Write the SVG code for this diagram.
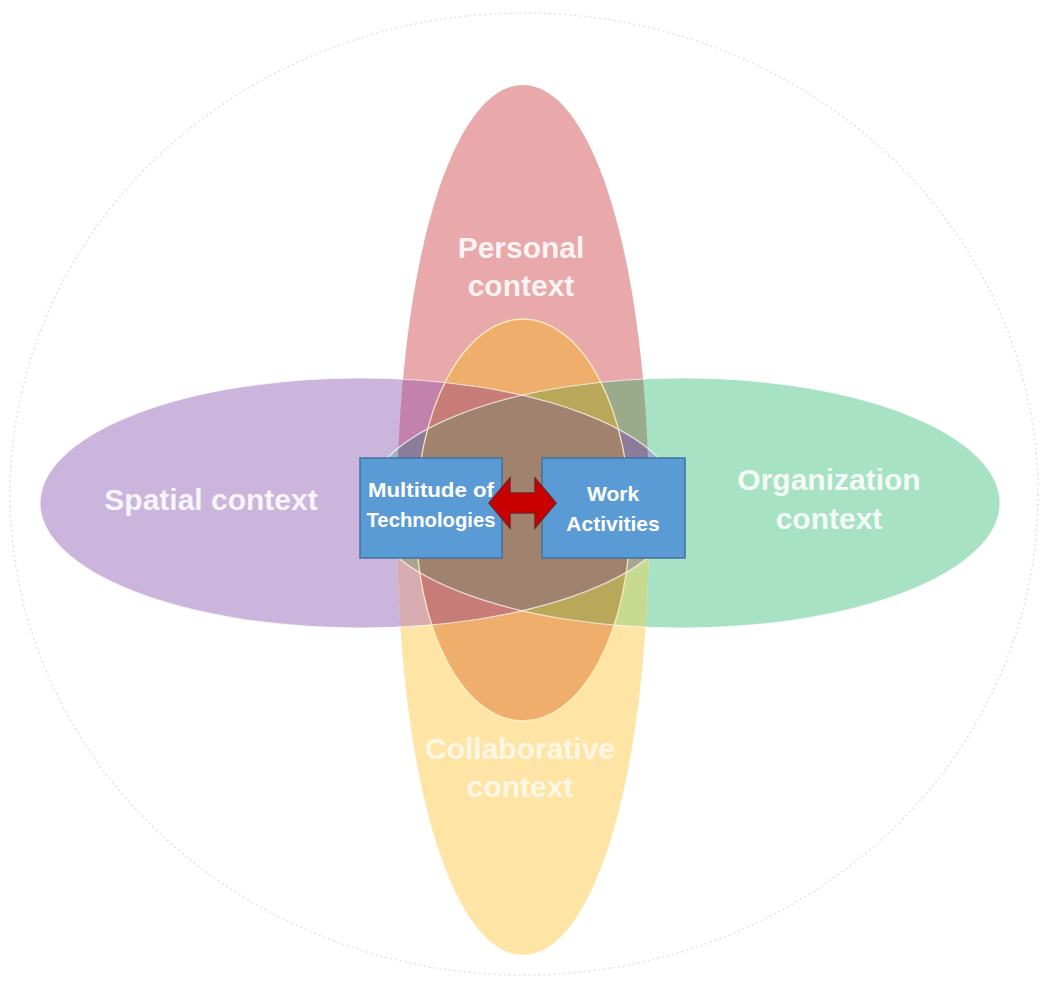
<svg xmlns="http://www.w3.org/2000/svg" width="1043" height="986" viewBox="0 0 1043 986">
<style>
.lbl{font-family:"Liberation Sans",Arial,sans-serif;font-weight:bold;font-size:30px;fill:#FFFFFF;fill-opacity:0.88;text-anchor:middle}
.btxt{font-family:"Liberation Sans",Arial,sans-serif;font-weight:bold;font-size:21px;fill:#FFFFFF;text-anchor:middle}
.box{fill:#5B9BD5;stroke:#41719C;stroke-width:1.5}
.edge{fill:none;stroke:#FFFFFF;stroke-opacity:0.7;stroke-width:1.2}
</style>
<defs>
<clipPath id="cV"><path d="M397,520 C397,259 453.7,85 523,85 C592.3,85 649,259 649,520 C649,781 592.3,955 523,955 C453.7,955 397,781 397,520 Z"/></clipPath>
<clipPath id="cO"><ellipse cx="523" cy="520" rx="107" ry="201"/></clipPath>
<clipPath id="cP"><ellipse cx="360" cy="503" rx="320" ry="125"/></clipPath>
<clipPath id="cG"><ellipse cx="683" cy="503" rx="317" ry="125"/></clipPath>
<clipPath id="cTop"><rect x="0" y="0" width="1043" height="508"/></clipPath>
<clipPath id="cBot"><rect x="0" y="508" width="1043" height="478"/></clipPath>
</defs>
<rect width="1043" height="986" fill="#FFFFFF"/>
<ellipse id="outer" cx="524" cy="494" rx="514" ry="481" fill="none" stroke="#E2E2E2" stroke-width="1.5" stroke-dasharray="2 3"/>
<g id="node-spatial">
<ellipse cx="360" cy="503" rx="320" ry="125" fill="#CBB5DD"/>
<text class="lbl" x="211" y="510">Spatial context</text>
</g>
<g id="node-organization">
<ellipse cx="683" cy="503" rx="317" ry="125" fill="#A8E2C5"/>
<g clip-path="url(#cP)"><ellipse cx="683" cy="503" rx="317" ry="125" fill="#A2B2CC"/></g>
<text class="lbl" x="829" y="490">Organization</text>
<text class="lbl" x="829" y="529">context</text>
</g>
<g id="node-personal">
<g clip-path="url(#cTop)"><path d="M397,520 C397,259 453.7,85 523,85 C592.3,85 649,259 649,520 C649,781 592.3,955 523,955 C453.7,955 397,781 397,520 Z" fill="#E9A8AA"/></g>
<text class="lbl" x="521" y="258">Personal</text>
<text class="lbl" x="521" y="296">context</text>
</g>
<g id="node-collaborative">
<g clip-path="url(#cBot)"><path d="M397,520 C397,259 453.7,85 523,85 C592.3,85 649,259 649,520 C649,781 592.3,955 523,955 C453.7,955 397,781 397,520 Z" fill="#FEE5A5"/></g>
<text class="lbl" x="520" y="759" style="fill-opacity:0.72">Collaborative</text>
<text class="lbl" x="520" y="797" style="fill-opacity:0.72">context</text>
</g>
<g id="overlaps">
<g clip-path="url(#cV)">
<g clip-path="url(#cTop)">
<ellipse cx="360" cy="503" rx="320" ry="125" fill="#C382AE"/>
<ellipse cx="683" cy="503" rx="317" ry="125" fill="#9BAA8B"/>
<g clip-path="url(#cP)"><ellipse cx="683" cy="503" rx="317" ry="125" fill="#8C7C9C"/></g>
</g>
<g clip-path="url(#cBot)">
<ellipse cx="360" cy="503" rx="320" ry="125" fill="#D6ACB0"/>
<ellipse cx="683" cy="503" rx="317" ry="125" fill="#C8DA90"/>
<g clip-path="url(#cP)"><ellipse cx="683" cy="503" rx="317" ry="125" fill="#A9A592"/></g>
</g>
</g>
</g>
<g id="node-core">
<ellipse cx="523" cy="520" rx="107" ry="201" fill="#F0AE6C"/>
<g clip-path="url(#cO)">
<ellipse cx="360" cy="503" rx="320" ry="125" fill="#C87C78"/>
<ellipse cx="683" cy="503" rx="317" ry="125" fill="#BAA85A"/>
<g clip-path="url(#cP)"><ellipse cx="683" cy="503" rx="317" ry="125" fill="#A0826E"/></g>
</g>
</g>
<g id="outlines">
<ellipse class="edge" cx="360" cy="503" rx="320" ry="125"/>
<ellipse class="edge" cx="683" cy="503" rx="317" ry="125"/>
<ellipse cx="523" cy="520" rx="107" ry="201" fill="none" stroke="#FFF4C8" stroke-opacity="0.85" stroke-width="1.3"/>
</g>
<g id="node-technologies">
<rect class="box" x="360" y="458" width="142" height="100"/>
<text class="btxt" x="431" y="497" textLength="126" lengthAdjust="spacingAndGlyphs">Multitude of</text>
<text class="btxt" x="431" y="527" textLength="129" lengthAdjust="spacingAndGlyphs">Technologies</text>
</g>
<g id="node-work">
<rect class="box" x="542" y="458" width="143" height="100"/>
<text class="btxt" x="613" y="501">Work</text>
<text class="btxt" x="613" y="531">Activities</text>
</g>
<g id="connectors">
<polygon points="489,503 510,478 510,493 535,493 535,478 556,503 535,528 535,513 510,513 510,528" fill="#C80000" stroke="#7F2020" stroke-width="1.5" stroke-linejoin="miter"/>
</g>
</svg>
